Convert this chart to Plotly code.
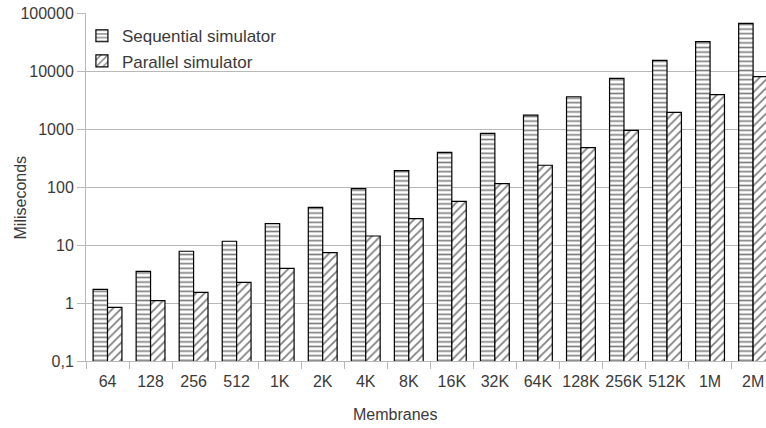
import plotly.graph_objects as go

# Membrane counts on the x axis
membranes = ["64", "128", "256", "512", "1K", "2K", "4K", "8K", "16K", "32K",
             "64K", "128K", "256K", "512K", "1M", "2M"]

# Execution time in milliseconds
sequential_ms = [1.72, 3.5, 7.8, 11.6, 23.3, 44.6, 93.6, 191, 396, 843,
                 1740, 3600, 7480, 15300, 32000, 66300]
parallel_ms = [0.84, 1.1, 1.53, 2.27, 3.96, 7.4, 14.3, 28.4, 56.6, 114,
               237, 476, 948, 1937, 3900, 7980]

y_tickvals = [0.1, 1, 10, 100, 1000, 10000, 100000]
y_ticktext = ["0,1", "1", "10", "100", "1000", "10000", "100000"]

FONT = "Liberation Sans, Arial, sans-serif"
TEXT = "#3a3a3a"
GRID = "#b8b8b8"

fig = go.Figure()
fig.add_trace(go.Bar(
    name="Sequential simulator", x=membranes, y=sequential_ms,
    marker=dict(color="white", line=dict(color="black", width=1.2),
                pattern=dict(shape="-", size=4.6, solidity=0.36,
                             fgcolor="black", bgcolor="white")),
))
fig.add_trace(go.Bar(
    name="Parallel simulator", x=membranes, y=parallel_ms,
    marker=dict(color="white", line=dict(color="black", width=1.2),
                pattern=dict(shape="/", size=6, solidity=0.3,
                             fgcolor="black", bgcolor="white")),
))

fig.update_layout(
    width=766, height=428,
    margin=dict(l=86, r=0, t=13, b=67),
    paper_bgcolor="white", plot_bgcolor="white",
    barmode="group", bargap=0.33, bargroupgap=0,
    font=dict(family=FONT, color=TEXT, size=16),
    showlegend=True,
    legend=dict(x=-0.006, y=0.985, xanchor="left", yanchor="top",
                bgcolor="rgba(0,0,0,0)", font=dict(size=17, color=TEXT),
                tracegroupgap=0, itemwidth=30),
    xaxis=dict(type="category", range=[-0.5, 15.3], tickson="boundaries",
               ticks="outside", ticklen=7, tickcolor=GRID, showline=True,
               linecolor=GRID, linewidth=1, showgrid=False, tickangle=0,
               ticklabelstandoff=6,
               tickfont=dict(size=16, color=TEXT)),
    yaxis=dict(type="log", range=[-1, 5], tickvals=y_tickvals,
               ticktext=y_ticktext, ticks="outside", ticklen=8,
               tickcolor=GRID, showline=True, linecolor=GRID, linewidth=1,
               showgrid=True, gridcolor=GRID, gridwidth=1,
               tickfont=dict(size=16, color=TEXT)),
    annotations=[
        dict(text="Miliseconds", xref="paper", yref="paper",
             x=-0.097, y=0.47, xanchor="center", yanchor="middle",
             textangle=-90, showarrow=False,
             font=dict(size=16, color=TEXT, family=FONT)),
        dict(text="Membranes", xref="paper", yref="paper",
             x=0.454, y=-0.155, xanchor="center", yanchor="middle",
             showarrow=False, font=dict(size=16, color=TEXT, family=FONT)),
    ],
)

fig.write_html("out.html")
